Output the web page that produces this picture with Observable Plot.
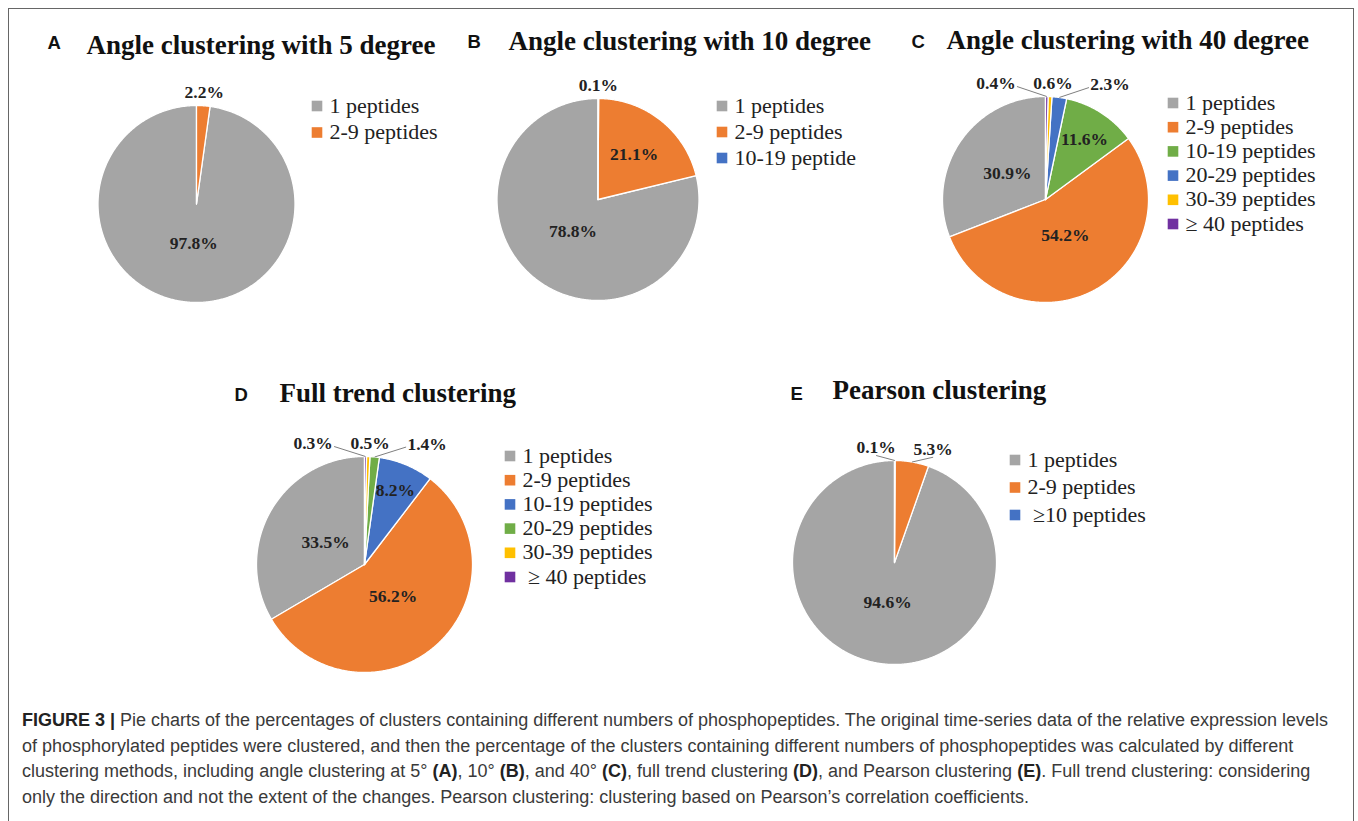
<!DOCTYPE html>
<html>
<head>
<meta charset="utf-8">
<script src="https://cdn.jsdelivr.net/npm/d3@7"></script>
<script src="https://cdn.jsdelivr.net/npm/@observablehq/plot@0.6"></script>
<style>
  html, body { margin: 0; padding: 0; background: #fff; }
  body { width: 1358px; height: 821px; position: relative; overflow: hidden; }
  #frame { position: absolute; left: 8px; top: 8px; width: 1346px; height: 840px; border: 1.5px solid #666; box-sizing: border-box; }
  #chart { position: absolute; left: 0; top: 0; }
  #caption { position: absolute; left: 22px; top: 708px; font-family: "Liberation Sans", Arial, sans-serif; font-size: 18px; line-height: 25.5px; color: #3a3a3a; white-space: nowrap; }
  #caption b { color: #222; }
</style>
</head>
<body>
<div id="frame"></div>
<div id="chart"></div>
<div id="caption"></div>
<script>
// ---------------- DATA ----------------
const panelLetters = ["A", "B", "C", "D", "E"];
const panelTitles = [
  "Angle clustering with 5 degree",
  "Angle clustering with 10 degree",
  "Angle clustering with 40 degree",
  "Full trend clustering",
  "Pearson clustering"
];
const categoriesA = ["1 peptides", "2-9 peptides"];
const valuesA = [97.8, 2.2];
const categoriesB = ["1 peptides", "2-9 peptides", "10-19 peptide"];
const valuesB = [78.8, 21.1, 0.1];
const categoriesC = ["1 peptides", "2-9 peptides", "10-19 peptides", "20-29 peptides", "30-39 peptides", "\u2265 40 peptides"];
const valuesC = [30.9, 54.2, 11.6, 2.3, 0.6, 0.4];
const categoriesD = ["1 peptides", "2-9 peptides", "10-19 peptides", "20-29 peptides", "30-39 peptides", " \u2265 40 peptides"];
const valuesD = [33.5, 56.2, 8.2, 1.4, 0.5, 0.3];
const categoriesE = ["1 peptides", "2-9 peptides", " \u226510 peptides"];
const valuesE = [94.6, 5.3, 0.1];

const captionLines = [
  ["<b>FIGURE 3 |</b> Pie charts of the percentages of clusters containing different numbers of phosphopeptides. The original time-series data of the relative expression levels"],
  ["of phosphorylated peptides were clustered, and then the percentage of the clusters containing different numbers of phosphopeptides was calculated by different"],
  ["clustering methods, including angle clustering at 5\u00b0 <b>(A)</b>, 10\u00b0 <b>(B)</b>, and 40\u00b0 <b>(C)</b>, full trend clustering <b>(D)</b>, and Pearson clustering <b>(E)</b>. Full trend clustering: considering"],
  ["only the direction and not the extent of the changes. Pearson clustering: clustering based on Pearson\u2019s correlation coefficients."]
];

// ---------------- STYLE ----------------
const GRAY = "#A5A5A5", ORANGE = "#ED7D31", BLUE = "#4472C4", GREEN = "#70AD47", YELLOW = "#FFC000", PURPLE = "#7030A0";
const palettes = [
  [GRAY, ORANGE],
  [GRAY, ORANGE, BLUE],
  [GRAY, ORANGE, GREEN, BLUE, YELLOW, PURPLE],
  [GRAY, ORANGE, BLUE, GREEN, YELLOW, PURPLE],
  [GRAY, ORANGE, BLUE]
];
const SERIF = "'Liberation Serif', 'Times New Roman', serif";
const SANS = "'Liberation Sans', Arial, sans-serif";

// ---------------- LAYOUT ----------------
const layout = [
  {cx: 196, cy: 203.5, r: 98.5, letterX: 47, letterY: 48, titleX: 86, titleY: 53, legX: 317, legY: 105, legStep: 26.5},
  {cx: 597.5, cy: 199, r: 101, letterX: 467, letterY: 47, titleX: 508, titleY: 49, legX: 722, legY: 105, legStep: 26},
  {cx: 1045, cy: 199, r: 103, letterX: 911, letterY: 47, titleX: 946, titleY: 48, legX: 1173, legY: 102, legStep: 24.2},
  {cx: 364, cy: 564, r: 108, letterX: 234, letterY: 400, titleX: 279, titleY: 401, legX: 510, legY: 455, legStep: 24.2},
  {cx: 894, cy: 562, r: 102, letterX: 790, letterY: 399, titleX: 832, titleY: 398, legX: 1015, legY: 459, legStep: 27.5}
];
const W = 1358, H = 700;

// ---------------- BUILD ----------------
const cats = [categoriesA, categoriesB, categoriesC, categoriesD, categoriesE];
const vals = [valuesA, valuesB, valuesC, valuesD, valuesE];
const pie = d3.pie().sort(null).startAngle(0).endAngle(-2 * Math.PI);

const slicePts = [], inLabels = [], outLabels = [], leaders = [], legendRows = [], titles = [];
const colorDomain = [], colorRange = [];

cats.forEach((cs, i) => {
  const L = layout[i];
  const total = d3.sum(vals[i]);
  cs.forEach((c, j) => { colorDomain.push(i + "|" + j); colorRange.push(palettes[i][j]); });
  const arcs = pie(vals[i]);
  arcs.forEach((a, j) => {
    const key = i + "|" + j;
    const n = Math.max(2, Math.ceil(Math.abs(a.endAngle - a.startAngle) / (Math.PI / 360)));
    slicePts.push({key, x: L.cx, y: L.cy});
    for (let k = 0; k <= n; k++) {
      const t = a.startAngle + (a.endAngle - a.startAngle) * k / n;
      slicePts.push({key, x: L.cx + L.r * Math.sin(t), y: L.cy - L.r * Math.cos(t)});
    }
    slicePts.push({key, x: L.cx, y: L.cy});
  });
  // inner labels
  arcs.forEach(a => {
    const f = a.value / total;
    if (f < 0.06) return;
    const m = (a.startAngle + a.endAngle) / 2;
    const rf = Math.max(0.4, 0.85 - 1.3 * f);
    inLabels.push({x: L.cx + rf * L.r * Math.sin(m), y: L.cy - rf * L.r * Math.cos(m), text: a.value.toFixed(1) + "%"});
  });
  // outer labels
  const outs = arcs.filter(a => a.value / total < 0.06).map(a => {
    const m = (a.startAngle + a.endAngle) / 2;
    return {ax: L.cx + L.r * Math.sin(m), ay: L.cy - L.r * Math.cos(m),
            x: L.cx + (L.r + 14) * Math.sin(m), y: L.cy - (L.r + 13) * Math.cos(m),
            text: a.value.toFixed(1) + "%"};
  }).sort((p, q) => p.x - q.x);
  const gap = 57;
  if (outs.some((o, k) => k > 0 && o.x - outs[k - 1].x < gap)) {
    const mean = d3.mean(outs, o => o.x);
    outs.forEach((o, k) => { o.x = mean + (k - (outs.length - 1) / 2) * gap; });
  }
  outs.forEach(o => {
    outLabels.push(o);
    if (Math.abs(o.x - o.ax) > 12) {
      let sx, sy;
      if (o.x + 20 < o.ax - 4) { sx = o.x + 21; sy = o.y + 3; }
      else if (o.x - 20 > o.ax + 4) { sx = o.x - 21; sy = o.y + 3; }
      else { sx = o.x; sy = o.y + 8; }
      leaders.push({x1: sx, y1: sy, x2: o.ax, y2: o.ay});
    }
  });
  // legend
  cs.forEach((c, j) => {
    legendRows.push({key: i + "|" + j, label: c, x: L.legX, y: L.legY + j * L.legStep});
  });
  titles.push({letter: panelLetters[i], title: panelTitles[i], lx: L.letterX, ly: L.letterY, tx: L.titleX, ty: L.titleY});
});

const sq = 5.3;
const chart = Plot.plot({
  width: W, height: H, margin: 0,
  x: {domain: [0, W], range: [0, W], axis: null},
  y: {domain: [0, H], range: [0, H], axis: null},
  color: {type: "ordinal", domain: colorDomain, range: colorRange},
  style: {background: "transparent", overflow: "visible"},
  marks: [
    Plot.line(slicePts, {x: "x", y: "y", z: "key", fill: "key", stroke: "white", strokeWidth: 1.3, curve: "linear", strokeLinejoin: "round"}),
    Plot.link(leaders, {x1: "x1", y1: "y1", x2: "x2", y2: "y2", stroke: "#7f7f7f", strokeWidth: 1}),
    Plot.text(inLabels, {x: "x", y: "y", text: "text", fontFamily: SERIF, fontWeight: "bold", fontSize: 17.5, fill: "#222", lineAnchor: "middle"}),
    Plot.text(outLabels, {x: "x", y: "y", text: "text", fontFamily: SERIF, fontWeight: "bold", fontSize: 17.5, fill: "#222", lineAnchor: "middle"}),
    Plot.rect(legendRows, {x1: d => d.x - sq, x2: d => d.x + sq, y1: d => d.y - sq + 1, y2: d => d.y + sq + 1, fill: "key"}),
    Plot.text(legendRows, {x: d => d.x + 12, y: "y", text: "label", textAnchor: "start", lineAnchor: "middle", fontFamily: SERIF, fontSize: 22, fill: "#222"}),
    Plot.text(titles, {x: "lx", y: "ly", text: "letter", textAnchor: "start", lineAnchor: "bottom", fontFamily: SANS, fontWeight: "bold", fontSize: 18.5, fill: "#111"}),
    Plot.text(titles, {x: "tx", y: "ty", text: "title", textAnchor: "start", lineAnchor: "bottom", fontFamily: SERIF, fontWeight: "bold", fontSize: 27, fill: "#111"})
  ]
});
document.getElementById("chart").appendChild(chart);
document.getElementById("caption").innerHTML = captionLines.map(l => l[0]).join("<br>");
</script>
</body>
</html>
